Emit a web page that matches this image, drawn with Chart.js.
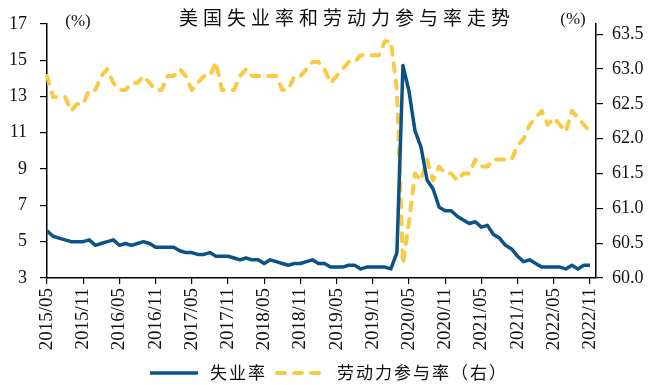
<!DOCTYPE html>
<html>
<head>
<meta charset="utf-8">
<script src="https://cdn.jsdelivr.net/npm/chart.js@4.4.1/dist/chart.umd.min.js"></script>
<style>
  html, body { margin: 0; padding: 0; background: #fff; }
</style>
</head>
<body>
<canvas id="myChart" width="659" height="385"></canvas>
<script>
// 月份（最后一个空位让横轴延伸到 2022/12）
const months = [
  '2015/05','2015/06','2015/07','2015/08','2015/09','2015/10','2015/11','2015/12',
  '2016/01','2016/02','2016/03','2016/04','2016/05','2016/06','2016/07','2016/08','2016/09','2016/10','2016/11','2016/12',
  '2017/01','2017/02','2017/03','2017/04','2017/05','2017/06','2017/07','2017/08','2017/09','2017/10','2017/11','2017/12',
  '2018/01','2018/02','2018/03','2018/04','2018/05','2018/06','2018/07','2018/08','2018/09','2018/10','2018/11','2018/12',
  '2019/01','2019/02','2019/03','2019/04','2019/05','2019/06','2019/07','2019/08','2019/09','2019/10','2019/11','2019/12',
  '2020/01','2020/02','2020/03','2020/04','2020/05','2020/06','2020/07','2020/08','2020/09','2020/10','2020/11','2020/12',
  '2021/01','2021/02','2021/03','2021/04','2021/05','2021/06','2021/07','2021/08','2021/09','2021/10','2021/11','2021/12',
  '2022/01','2022/02','2022/03','2022/04','2022/05','2022/06','2022/07','2022/08','2022/09','2022/10','2022/11','2022/12'
];

// 失业率 (%)
const unemployment = [
  5.6, 5.3, 5.2, 5.1, 5.0, 5.0, 5.0, 5.1,
  4.8, 4.9, 5.0, 5.1, 4.8, 4.9, 4.8, 4.9, 5.0, 4.9, 4.7, 4.7,
  4.7, 4.7, 4.5, 4.4, 4.4, 4.3, 4.3, 4.4, 4.2, 4.2, 4.2, 4.1,
  4.0, 4.1, 4.0, 4.0, 3.8, 4.0, 3.9, 3.8, 3.7, 3.8, 3.8, 3.9,
  4.0, 3.8, 3.8, 3.6, 3.6, 3.6, 3.7, 3.7, 3.5, 3.6, 3.6, 3.6,
  3.6, 3.5, 4.4, 14.7, 13.3, 11.1, 10.2, 8.4, 7.9, 6.9, 6.7, 6.7,
  6.4, 6.2, 6.0, 6.1, 5.8, 5.9, 5.4, 5.2, 4.8, 4.6, 4.2, 3.9,
  4.0, 3.8, 3.6, 3.6, 3.6, 3.6, 3.5, 3.7, 3.5, 3.7, 3.7, null
];

// 劳动力参与率 (%)，右轴
const participation = [
  62.9, 62.6, 62.6, 62.6, 62.4, 62.5, 62.5, 62.7,
  62.7, 62.9, 63.0, 62.8, 62.7, 62.7, 62.8, 62.8, 62.9, 62.8, 62.7, 62.7,
  62.9, 62.9, 63.0, 62.9, 62.7, 62.8, 62.9, 62.9, 63.1, 62.7, 62.7, 62.7,
  62.9, 63.0, 62.9, 62.9, 62.9, 62.9, 62.9, 62.7, 62.7, 62.9, 62.9, 63.0,
  63.1, 63.1, 63.0, 62.8, 62.9, 63.0, 63.1, 63.1, 63.2, 63.2, 63.2, 63.2,
  63.4, 63.4, 62.7, 60.2, 60.8, 61.5, 61.4, 61.7, 61.4, 61.6, 61.5, 61.5,
  61.4, 61.5, 61.5, 61.7, 61.6, 61.6, 61.7, 61.7, 61.7, 61.7, 61.9, 62.0,
  62.2, 62.3, 62.4, 62.2, 62.3, 62.2, 62.1, 62.4, 62.3, 62.2, 62.1, null
];

const leftTicks = [3, 5, 7, 9, 11, 13, 15, 17];
const rightTicks = [60.0, 60.5, 61.0, 61.5, 62.0, 62.5, 63.0, 63.5];

const titleText = '美国失业率和劳动力参与率走势';
const serif = '"Liberation Serif", "Times New Roman", serif';
const cjk = '"Noto Sans CJK SC", sans-serif';

// 标题、(%)单位和图例自己画
const overlay = {
  id: 'overlay',
  afterDraw(chart) {
    const ctx = chart.ctx;
    const area = chart.chartArea;
    ctx.save();
    ctx.fillStyle = '#111';
    ctx.textBaseline = 'middle';

    ctx.font = '19px ' + cjk;
    ctx.letterSpacing = '5px';
    ctx.textAlign = 'center';
    ctx.fillText(titleText, 347, 18);
    ctx.letterSpacing = '0px';

    ctx.font = '17px ' + serif;
    ctx.fillText('(%)', area.left + 31, 22);
    ctx.fillText('(%)', area.right - 23, 20);

    // 图例
    ctx.font = '17px ' + cjk;
    ctx.letterSpacing = '2px';
    ctx.textAlign = 'left';
    let x = 150;
    const y = 373;
    chart.data.datasets.forEach(ds => {
      ctx.strokeStyle = ds.borderColor;
      ctx.lineWidth = ds.borderWidth;
      ctx.lineCap = ds.borderCapStyle || 'butt';
      ctx.setLineDash(ds.borderDash || []);
      ctx.beginPath();
      ctx.moveTo(x, y);
      ctx.lineTo(x + 48, y);
      ctx.stroke();
      ctx.setLineDash([]);
      ctx.fillText(ds.label, x + 60, y);
      x += 60 + ctx.measureText(ds.label).width + 10;
    });
    ctx.restore();
  }
};

const ctx = document.getElementById('myChart').getContext('2d');
const myChart = new Chart(ctx, {
  type: 'line',
  data: {
    labels: months,
    datasets: [
      {
        label: '失业率',
        data: unemployment,
        yAxisID: 'y',
        borderColor: '#0B5287',
        borderWidth: 3.5,
        borderCapStyle: 'butt',
        borderJoinStyle: 'round',
        pointRadius: 0,
        tension: 0
      },
      {
        label: '劳动力参与率（右）',
        data: participation,
        yAxisID: 'y1',
        borderColor: '#FAC945',
        borderWidth: 4,
        borderDash: [8, 9],
        borderCapStyle: 'round',
        borderJoinStyle: 'round',
        pointRadius: 0,
        tension: 0
      }
    ]
  },
  options: {
    responsive: false,
    animation: false,
    layout: { padding: { top: 12, left: 0, right: 0, bottom: 0 } },
    plugins: {
      legend: { display: false },
      title: { display: false },
      tooltip: { enabled: false }
    },
    scales: {
      x: {
        offset: false,
        grid: { drawOnChartArea: false, drawTicks: true, tickLength: 6, color: '#000', lineWidth: 1.2 },
        border: { display: true, color: '#000', width: 1.5 },
        ticks: {
          autoSkip: false,
          minRotation: 90,
          maxRotation: 90,
          padding: 4,
          color: '#111',
          font: { family: serif, size: 19 },
          callback: function (value) { return this.getLabelForValue(value); }
        },
        afterBuildTicks: scale => {
          scale.ticks = scale.ticks.filter(t => t.value % 6 === 0);
        },
        afterFit: scale => { scale.height = 107; }
      },
      y: {
        position: 'left',
        min: 3,
        max: 17,
        grid: { drawOnChartArea: false, drawTicks: true, tickLength: 7, color: '#000', lineWidth: 1.2 },
        border: { display: true, color: '#000', width: 1.5 },
        ticks: {
          padding: 13,
          color: '#111',
          font: { family: serif, size: 18 }
        },
        afterBuildTicks: scale => {
          scale.ticks = leftTicks.map(v => ({ value: v }));
        },
        afterFit: scale => { scale.width = 47; }
      },
      y1: {
        position: 'right',
        min: 60,
        max: 63.65,
        grid: { drawOnChartArea: false, drawTicks: true, tickLength: 7, color: '#000', lineWidth: 1.2 },
        border: { display: true, color: '#000', width: 1.5 },
        ticks: {
          padding: 9,
          color: '#111',
          font: { family: serif, size: 18 },
          callback: value => value.toFixed(1)
        },
        afterBuildTicks: scale => {
          scale.ticks = rightTicks.map(v => ({ value: v }));
        },
        afterFit: scale => { scale.width = 63; }
      }
    }
  },
  plugins: [overlay]
});
</script>
</body>
</html>
